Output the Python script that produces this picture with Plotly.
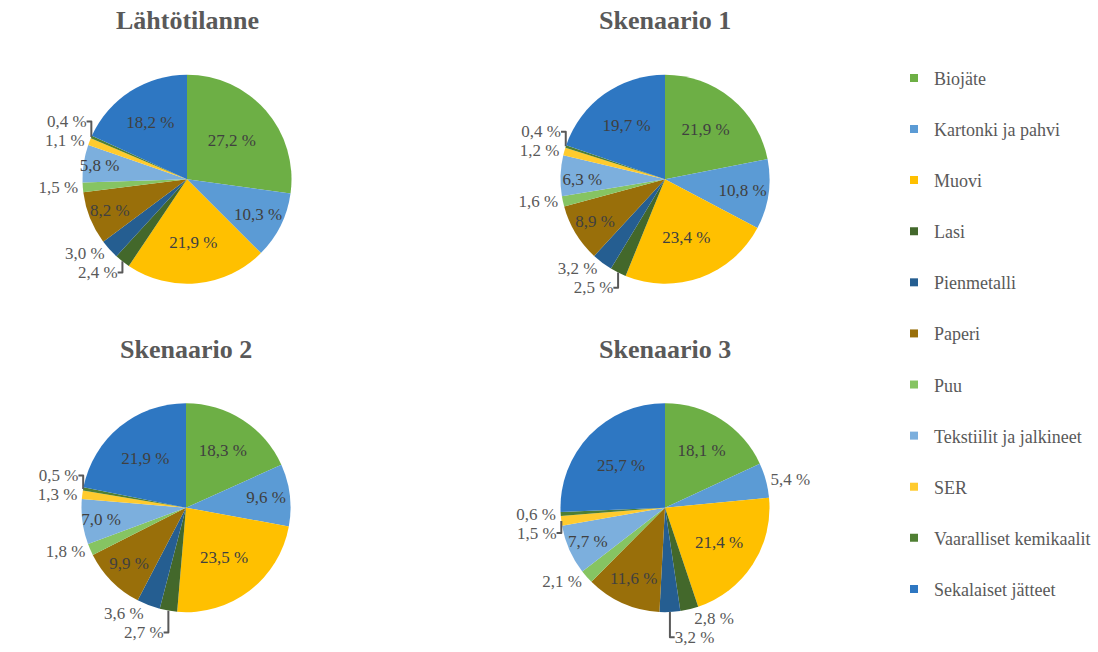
import plotly.graph_objects as go

categories = ["Biojäte", "Kartonki ja pahvi", "Muovi", "Lasi", "Pienmetalli", "Paperi",
              "Puu", "Tekstiilit ja jalkineet", "SER", "Vaaralliset kemikaalit", "Sekalaiset jätteet"]

titles = ["Lähtötilanne", "Skenaario 1", "Skenaario 2", "Skenaario 3"]

lahtotilanne = [27.2, 10.3, 21.9, 2.4, 3.0, 8.2, 1.5, 5.8, 1.1, 0.4, 18.2]
skenaario1 = [21.9, 10.8, 23.4, 2.5, 3.2, 8.9, 1.6, 6.3, 1.2, 0.4, 19.7]
skenaario2 = [18.3, 9.6, 23.5, 2.7, 3.6, 9.9, 1.8, 7.0, 1.3, 0.5, 21.9]
skenaario3 = [18.1, 5.4, 21.4, 2.8, 3.2, 11.6, 2.1, 7.7, 1.5, 0.6, 25.7]

colors = ["#6DAF45", "#5B9BD5", "#FFC000", "#43682B", "#255E91", "#996F0A",
          "#86C462", "#7CAFDD", "#FFCB2E", "#4F7F33", "#2E77C2"]

SERIF = "Liberation Serif, Times New Roman, serif"

W, H = 1098, 652
centers = [(187, 180), (665, 180), (186, 510), (665, 510)]
R = 105

series = [lahtotilanne, skenaario1, skenaario2, skenaario3]

fig = go.Figure()
for i, vals in enumerate(series):
    cx, cy = centers[i]
    texts = [f"{v:.1f}".replace(".", ",") + " %" for v in vals]
    pos = ["outside" if v < 5.5 else "inside" for v in vals]
    fig.add_trace(go.Pie(
        labels=categories, values=vals, text=texts, textinfo="text",
        textposition=pos, sort=False, direction="clockwise", rotation=0,
        marker=dict(colors=colors, line=dict(width=0)),
        insidetextorientation="horizontal",
        insidetextfont=dict(family=SERIF, size=17, color="#404040"),
        outsidetextfont=dict(family=SERIF, size=17, color="#595959"),
        showlegend=False, hoverinfo="label+percent",
        domain=dict(x=[(cx - R) / W, (cx + R) / W], y=[1 - (cy + R) / H, 1 - (cy - R) / H]),
    ))
    fig.add_annotation(
        x=cx / W, y=1 - (cy - 159) / H, xref="paper", yref="paper",
        text=f"<b>{titles[i]}</b>", showarrow=False, xanchor="center", yanchor="middle",
        font=dict(family=SERIF, size=26, color="#595959"),
    )

for c, col in zip(categories, colors):
    fig.add_trace(go.Scatter(
        x=[None], y=[None], mode="markers", name=c, legendgroup=c,
        marker=dict(symbol="square", size=8, color=col), showlegend=True,
    ))

fig.update_layout(
    width=W, height=H, margin=dict(l=0, r=0, t=0, b=0),
    paper_bgcolor="white", plot_bgcolor="white",
    font=dict(family=SERIF),
    xaxis=dict(visible=False), yaxis=dict(visible=False),
    uniformtext=dict(minsize=17, mode="show"),
    legend=dict(x=894 / W, y=1 - 60 / H, xanchor="left", yanchor="top",
                traceorder="grouped", tracegroupgap=24.7,
                font=dict(family=SERIF, size=18, color="#595959"),
                bgcolor="rgba(0,0,0,0)"),
    showlegend=True,
)

fig.write_html("out.html")
